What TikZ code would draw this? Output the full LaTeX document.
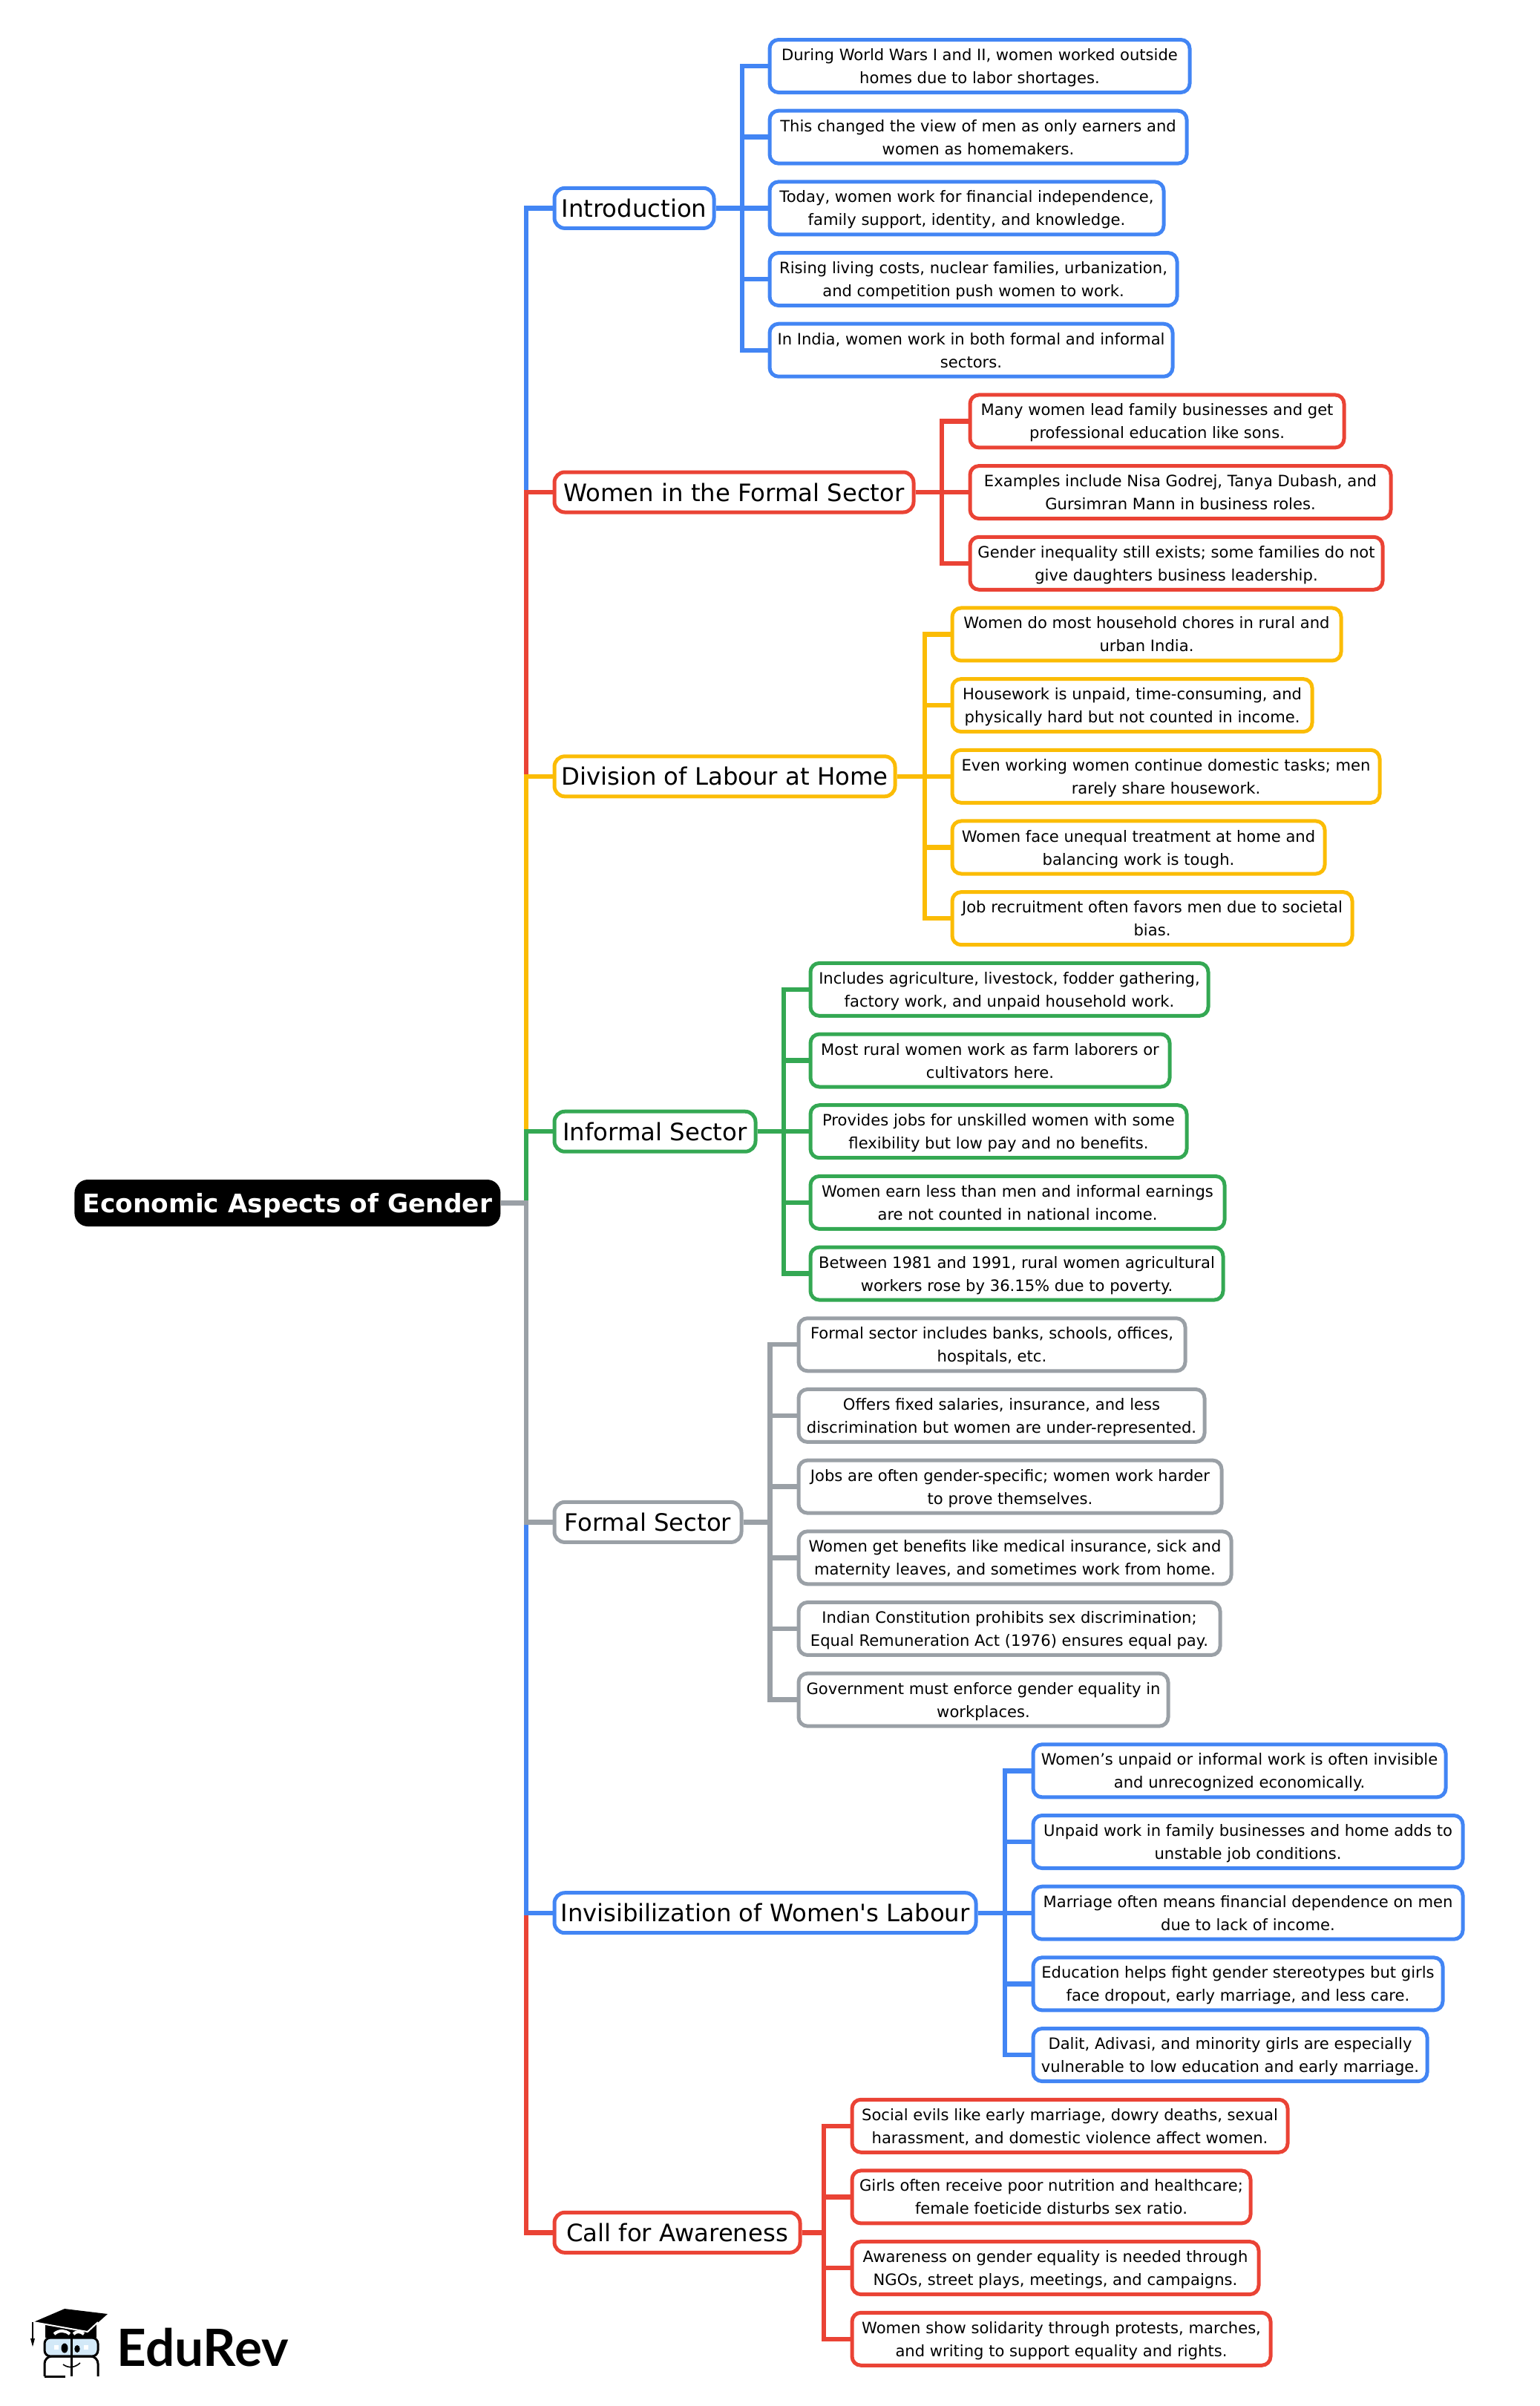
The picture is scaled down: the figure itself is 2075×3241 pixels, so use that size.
\documentclass[tikz,border=0pt]{standalone}
\usepackage{fontspec}
\newfontfamily\mapfont{DejaVu Sans}
\newfontfamily\logofont{Lato}
\definecolor{mapblue}{HTML}{4285F4}
\definecolor{mapred}{HTML}{EA4335}
\definecolor{mapyellow}{HTML}{FBBC05}
\definecolor{mapgreen}{HTML}{34A853}
\definecolor{mapgrey}{HTML}{9AA0A6}
\definecolor{lensblue}{HTML}{D3E9F8}
\tikzset{
  rootbox/.style={fill=black,text=white,rounded corners=9pt,inner sep=0pt,text depth=0pt,
    minimum height=31.5pt,font=\fontsize{17.2}{22}\mapfont\bfseries},
  branchbox/.style={draw,fill=white,line width=2.5pt,rounded corners=7pt,inner sep=0pt,
    minimum height=27pt,font=\fontsize{16.15}{20}\mapfont},
  leafbox/.style={draw,fill=white,line width=2.5pt,rounded corners=6pt,inner sep=0pt,text depth=0pt,
    minimum height=35.5pt,align=center,font=\fontsize{10.55}{15.5}\mapfont},
  link/.style={line width=3.2pt}
}
\begin{document}
\begin{tikzpicture}[x=0.5pt,y=-0.5pt]
  \useasboundingbox (0,0) rectangle (2075,3241);
  \def \Branches{
    intro/mapblue/963/280.4/1000/Introduction,
    formal/mapred/1232/663/1269/Women in the Formal Sector,
    division/mapyellow/1207/1045.8/1246/Division of Labour at Home,
    informal/mapgreen/1019/1524.2/1056/Informal Sector,
    call/mapred/1079/3007.3/1110/Call for Awareness,
    invis/mapblue/1316/2576.7/1354/Invisibilization of Women's Labour,
    sector/mapgrey/1000/2050.4/1037.5/Formal Sector}
  \def \Leaves{
    intro/mapblue/1036/1604/{During World Wars I and II, women worked outside\\homes due to labor shortages.},
    intro/mapblue/1036/1600/{This changed the view of men as only earners and\\women as homemakers.},
    intro/mapblue/1036/1569/{Today, women work for financial independence,\\family support, identity, and knowledge.},
    intro/mapblue/1036/1587/{Rising living costs, nuclear families, urbanization,\\and competition push women to work.},
    intro/mapblue/1036/1581/{In India, women work in both formal and informal\\sectors.},
    formal/mapred/1306/1812/{Many women lead family businesses and get\\professional education like sons.},
    formal/mapred/1306/1875/{Examples include Nisa Godrej, Tanya Dubash, and\\Gursimran Mann in business roles.},
    formal/mapred/1306/1864/{Gender inequality still exists; some families do not\\give daughters business leadership.},
    division/mapyellow/1282/1808/{Women do most household chores in rural and\\urban India.},
    division/mapyellow/1282/1769/{Housework is unpaid, time-consuming, and\\physically hard but not counted in income.},
    division/mapyellow/1282/1860/{Even working women continue domestic tasks; men\\rarely share housework.},
    division/mapyellow/1282/1786/{Women face unequal treatment at home and\\balancing work is tough.},
    division/mapyellow/1282/1823/{Job recruitment often favors men due to societal\\bias.},
    informal/mapgreen/1091/1629/{Includes agriculture, livestock, fodder gathering,\\factory work, and unpaid household work.},
    informal/mapgreen/1091/1577/{Most rural women work as farm laborers or\\cultivators here.},
    informal/mapgreen/1091/1600/{Provides jobs for unskilled women with some\\flexibility but low pay and no benefits.},
    informal/mapgreen/1091/1651/{Women earn less than men and informal earnings\\are not counted in national income.},
    informal/mapgreen/1091/1649/{Between 1981 and 1991, rural women agricultural\\workers rose by 36.15\% due to poverty.},
    sector/mapgrey/1075/1598/{Formal sector includes banks, schools, offices,\\hospitals, etc.},
    sector/mapgrey/1075/1624/{Offers fixed salaries, insurance, and less\\discrimination but women are under-represented.},
    sector/mapgrey/1075/1647/{Jobs are often gender-specific; women work harder\\to prove themselves.},
    sector/mapgrey/1075/1660/{Women get benefits like medical insurance, sick and\\maternity leaves, and sometimes work from home.},
    sector/mapgrey/1075/1645/{Indian Constitution prohibits sex discrimination;\\Equal Remuneration Act (1976) ensures equal pay.},
    sector/mapgrey/1075/1575/{Government must enforce gender equality in\\workplaces.},
    invis/mapblue/1391/1949/{Women’s unpaid or informal work is often invisible\\and unrecognized economically.},
    invis/mapblue/1391/1972/{Unpaid work in family businesses and home adds to\\unstable job conditions.},
    invis/mapblue/1391/1972/{Marriage often means financial dependence on men\\due to lack of income.},
    invis/mapblue/1391/1945/{Education helps fight gender stereotypes but girls\\face dropout, early marriage, and less care.},
    invis/mapblue/1391/1924/{Dalit, Adivasi, and minority girls are especially\\vulnerable to low education and early marriage.},
    call/mapred/1147/1736/{Social evils like early marriage, dowry deaths, sexual\\harassment, and domestic violence affect women.},
    call/mapred/1147/1686/{Girls often receive poor nutrition and healthcare;\\female foeticide disturbs sex ratio.},
    call/mapred/1147/1697/{Awareness on gender equality is needed through\\NGOs, street plays, meetings, and campaigns.},
    call/mapred/1147/1713/{Women show solidarity through protests, marches,\\and writing to support equality and rights.}}
  \node[rootbox,anchor=west,minimum width=287pt] (root) at (100,1620.5) {Economic Aspects of Gender};
  \coordinate (spine) at (709,1620.5);
  \foreach \id / \col / \xe / \y / \bus / \txt in \Branches{
    \node[branchbox,draw=\col,anchor=west,minimum width={(\xe-746-2)*0.5pt}] (\id) at (744.5,\y) {\txt};
    \coordinate (\id-bus) at (\bus,\y);
    \draw[link,\col] (root.east) -- (spine) |- (\id.west);
  }
  \foreach \id / \col / \x / \xe / \txt [count=\k from 0] in \Leaves{
    \node[leafbox,draw=\col,anchor=west,minimum width={(\xe-\x-2)*0.5pt}] (leaf\k) at ({\x-1.5},{89+95.68*\k}) {\txt};
    \draw[link,\col] (\id.east) -- (\id-bus) |- (leaf\k.west);
  }
  % logo
  \fill (61,3131) -- (130,3131) -- (130,3149) -- (61,3149) -- cycle;
  \draw[line width=2pt,white] (73,3144) .. controls (80,3138) and (88,3139) .. (94,3144);
  \draw[line width=2pt,white] (99,3144) .. controls (103,3140) and (108,3140) .. (113,3144);
  \fill (45,3128) -- (87,3110) -- (145,3117) -- (118,3141) -- cycle;
  \draw[white,line width=1pt] (45,3128) -- (118,3141) -- (132,3128);
  \draw[line width=1pt] (44,3128) -- (44,3150);
  \fill (41,3150) -- (47,3150) -- (44,3161) -- cycle;
  \draw[line width=1.5pt,rounded corners=4pt,fill=lensblue] (60,3149) rectangle (132,3174);
  \draw[line width=1.5pt,rounded corners=5pt] (60,3201) -- (60,3174) -- (132,3174) -- (132,3201);
  \draw[line width=1.5pt] (60,3201) -- (88,3201);
  \draw[line width=1.5pt] (96,3147) -- (96,3201);
  \fill (87,3163) ellipse [x radius=4.5,y radius=6.5];
  \fill (104,3164) ellipse [x radius=3.7,y radius=5];
  \fill[white] (73,3159) rectangle (79,3165);
  \fill[white] (113,3159) rectangle (119,3165);
  \draw[line width=0.8pt] (85,3185) .. controls (92,3190) and (100,3190) .. (108,3183);
  \node[font=\fontsize{34.6}{40}\logofont\bfseries,anchor=base west,inner sep=0pt] (brand) at (157,3187) {EduRev};
\end{tikzpicture}
\end{document}
